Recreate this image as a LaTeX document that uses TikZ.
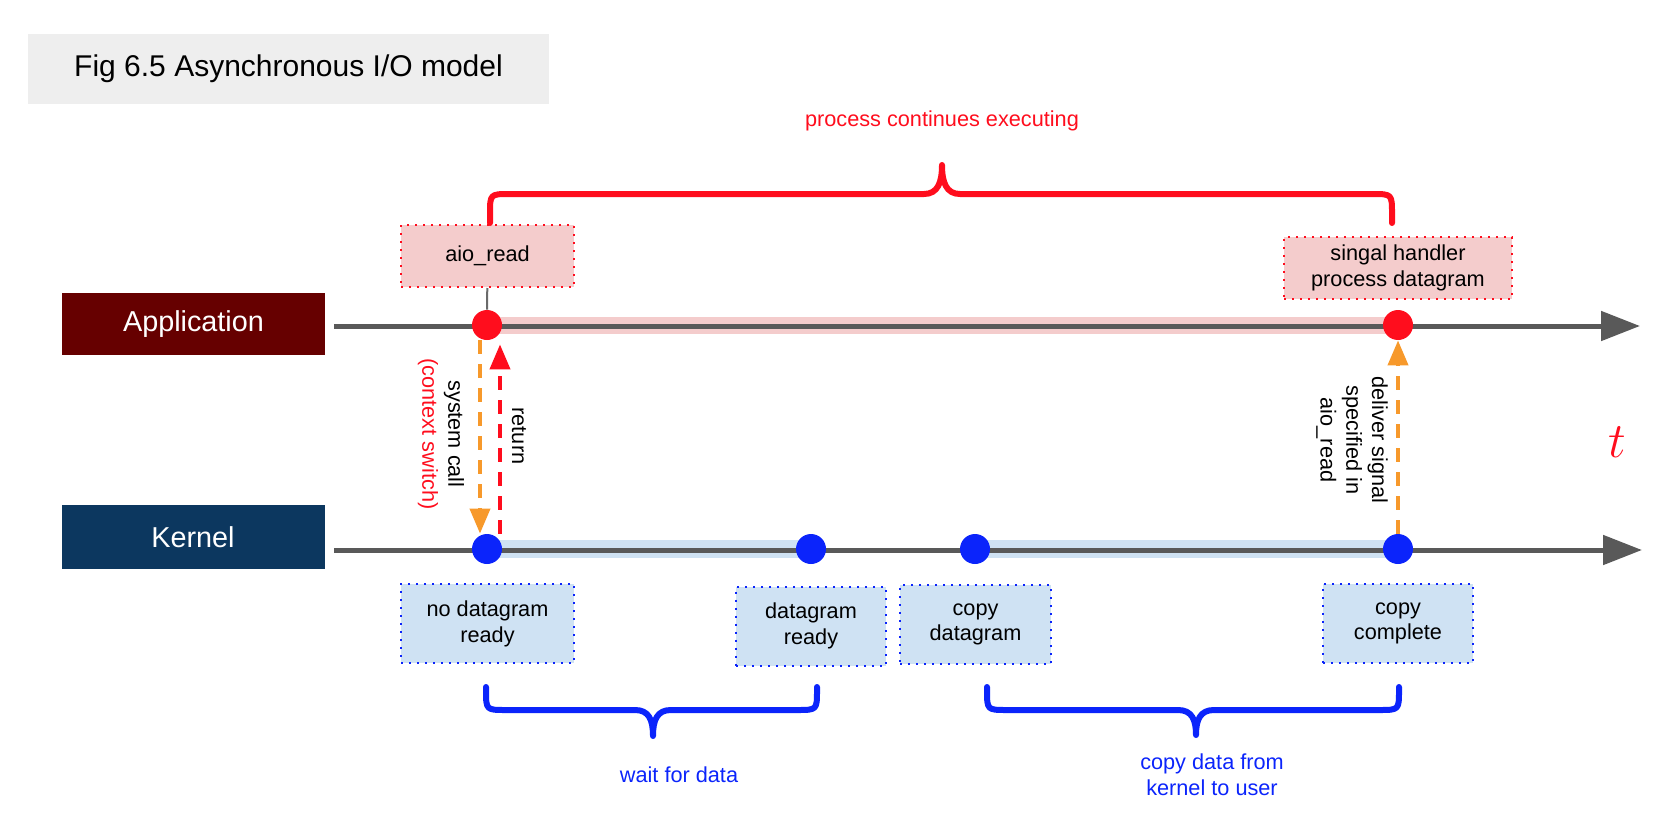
\documentclass[tikz,border=0pt]{standalone}
\usepackage{fontspec}
\setmainfont{Liberation Sans}
\usetikzlibrary{arrows.meta}
\definecolor{tred}{RGB}{255,13,29}
\definecolor{tblue}{RGB}{11,36,251}
\definecolor{torange}{RGB}{247,153,43}
\definecolor{appred}{RGB}{102,0,0}
\definecolor{kernblue}{RGB}{12,55,95}
\definecolor{pinkbg}{RGB}{244,204,204}
\definecolor{bluebg}{RGB}{207,226,243}
\definecolor{axisgray}{RGB}{89,89,89}
\definecolor{titlegray}{RGB}{238,238,238}
\newcommand\boxfont{\fontsize{10.85}{12.9}\selectfont}

\begin{document}
\begin{tikzpicture}
[x=0.5pt, y=-0.5pt, every node/.style={inner sep=0pt},
 rowbox/.style={minimum width=131.5pt, minimum height=31pt, text=white, font=\fontsize{14.4}{17}\selectfont},
 dot/.style={circle, minimum size=15pt},
 appnote/.style={fill=pinkbg, draw=tred, line width=1pt, dash pattern=on 1pt off 3pt, align=center, font=\boxfont, minimum height=31pt},
 kernnote/.style={fill=bluebg, draw=tblue, line width=1pt, dash pattern=on 1pt off 3pt, align=center, font=\boxfont, minimum height=39.5pt},
 timeline/.style={line width=2.5pt, color=axisgray, -{Triangle[length=19.5pt, width=14.5pt]}},
 sigarrow/.style={line width=2pt, dash pattern=on 7pt off 5pt, -{Triangle[length=12.5pt, width=10pt]}},
 brace/.style={line width=3pt, line cap=round, line join=round},
 rotlabel/.style={rotate=-90, align=center, font=\boxfont}]
\useasboundingbox (0,0) rectangle (1680,824);
\node (title) [fill=titlegray, minimum width=260.5pt, minimum height=35pt, font=\fontsize{15}{18}\selectfont] at (288.5,69) {Fig 6.5 Asynchronous I/O model};
\node (app) [rowbox, fill=appred] at (193.5,324) {Application};
\node (kern) [rowbox, fill=kernblue, minimum height=32pt] at (193,537) {Kernel};
% time axes
\coordinate (appstart) at (334,326);
\coordinate (append) at (1640,326);
\coordinate (kstart) at (334,550);
\coordinate (kend) at (1642,550);
\coordinate (ac) at (487,325);
\coordinate (as) at (1398,325);
\coordinate (kc) at (487,549);
\coordinate (kr) at (811,549);
\coordinate (kp) at (975,549);
\coordinate (kd) at (1398,549);
\draw [pinkbg, line width=8.5pt] (ac) -- (as);
\draw [bluebg, line width=9pt] (kc) -- (kr);
\draw [bluebg, line width=9pt] (kp) -- (kd);
\draw [timeline] (appstart) -- (append);
\draw [timeline] (kstart) -- (kend);
\node (callpt) [dot, fill=tred] at (ac) {};
\node (sigpt) [dot, fill=tred] at (as) {};
\node (waitpt) [dot, fill=tblue] at (kc) {};
\node (readypt) [dot, fill=tblue] at (kr) {};
\node (copypt) [dot, fill=tblue] at (kp) {};
\node (donept) [dot, fill=tblue] at (kd) {};
% notes
\node (aio) [appnote, minimum width=86.5pt] at (487.5,256) {aio\_read};
\node (handler) [appnote, minimum width=114pt] at (1398,268) {singal handler\\process datagram};
\draw [line width=1pt, color=axisgray!90] (aio) -- (callpt);
\node (nodata) [kernnote, minimum width=86.5pt] at (487.5,623.5) {no datagram\\ready};
\node (ready) [kernnote, minimum width=75pt] at (811,626) {datagram\\ready};
\node (copying) [kernnote, minimum width=75.5pt] at (975.5,624.5) {copy\\datagram};
\node (done) [kernnote, minimum width=75pt] at (1398,623.5) {copy\\complete};
% calls and signals
\draw [sigarrow, color=torange] ([xshift=-3.5pt]callpt.south) -- ([xshift=-3.5pt]waitpt.north);
\draw [sigarrow, color=tred, shorten >=2pt] ([xshift=6.5pt]waitpt.north) -- ([xshift=6.5pt]callpt.south);
\draw [sigarrow, color=torange] (donept.north) -- (sigpt.south);
\node (syscall) [rotlabel] at (441,434) {system call\\\textcolor{tred}{(context switch)}};
\node (ret) [rotlabel] at (519,436) {return};
\node (deliver) [rotlabel] at (1352,440) {deliver signal\\specified in\\aio\_read};
\node (taxis) [text=tred, font=\fontsize{37}{37}\selectfont] at (1617,442) {$t$};
% braces
\draw [brace, color=tred] (490,223) -- (490,214) .. controls (490,194) .. (510,194) -- (924,194) .. controls (938,194) and (942,182) .. (942,165) .. controls (942,182) and (946,194) .. (960,194) -- (1372,194) .. controls (1392,194) .. (1392,214) -- (1392,223);
\draw [brace, color=tblue] (486,687) -- (486,690) .. controls (486,710) .. (506,710) -- (635,710) .. controls (649,710) and (653,720) .. (653,736) .. controls (653,720) and (657,710) .. (671,710) -- (797,710) .. controls (817,710) .. (817,690) -- (817,687);
\draw [brace, color=tblue] (987,687) -- (987,690) .. controls (987,710) .. (1007,710) -- (1178,710) .. controls (1192,710) and (1196,720) .. (1196,735) .. controls (1196,720) and (1200,710) .. (1214,710) -- (1379,710) .. controls (1399,710) .. (1399,690) -- (1399,687);
\node (cont) [text=tred, font=\boxfont] at (942,121) {process continues executing};
\node (wait) [text=tblue, font=\boxfont] at (679,775) {wait for data};
\node (copy) [text=tblue, font=\boxfont, align=center] at (1212,775) {copy data from\\kernel to user};
\end{tikzpicture}
\end{document}
